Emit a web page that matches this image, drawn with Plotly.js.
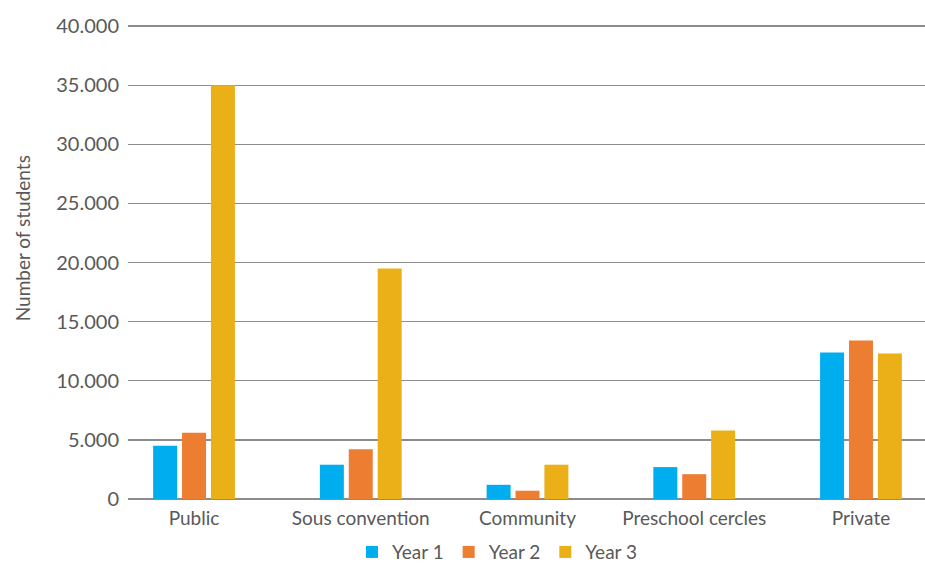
<!DOCTYPE html>
<html>
<head>
<meta charset="utf-8">
<script src="https://cdn.plot.ly/plotly-3.0.1.min.js"></script>
<style>html,body{margin:0;padding:0;background:#fff;}#chart{width:925px;height:567px;}</style>
</head>
<body>
<div id="chart"></div>
<script>
const categories = ["Public", "Sous convention", "Community", "Preschool cercles", "Private"];
const year1 = [4500, 2900, 1200, 2700, 12400];
const year2 = [5600, 4200, 700, 2100, 13400];
const year3 = [35000, 19500, 2900, 5800, 12300];
const seriesNames = ["Year 1", "Year 2", "Year 3"];
const colors = ["#00AEEF", "#ED7D31", "#EBB017"];
const yTicks = [0, 5000, 10000, 15000, 20000, 25000, 30000, 35000, 40000];

const series = [year1, year2, year3];
const traces = series.map((vals, i) => ({
  type: "bar",
  x: categories,
  y: vals,
  name: seriesNames[i],
  marker: {color: colors[i]},
  hoverinfo: "x+y+name"
}));

const font = {family: "Lato, 'Open Sans', sans-serif", color: "#595959"};

const layout = {
  width: 925, height: 567,
  margin: {l: 128, r: 0, t: 25, b: 68, autoexpand: false},
  paper_bgcolor: "#fff", plot_bgcolor: "#fff",
  separators: ",.",
  barmode: "group",
  bargap: 0.48,
  bargroupgap: 0.17,
  font: Object.assign({size: 20}, font),
  showlegend: true,
  legend: {
    orientation: "h", x: 0.463, xanchor: "center", y: -0.112, yanchor: "middle",
    font: Object.assign({size: 19}, font), itemwidth: 30, tracegroupgap: 0
  },
  xaxis: {
    type: "category",
    range: [-0.396, 4.384],
    showgrid: false, zeroline: false, showline: false,
    ticks: "", ticklabelstandoff: 6, tickfont: Object.assign({size: 19}, font)
  },
  yaxis: {
    range: [0, 40090],
    tickvals: yTicks,
    tickformat: ",d",
    showgrid: true, gridcolor: "#8c8c8c", gridwidth: 1.3,
    zeroline: true, zerolinecolor: "#8c8c8c", zerolinewidth: 1.3,
    showline: false, ticks: "", ticklabelstandoff: 8,
    tickfont: Object.assign({size: 20}, font)
  },
  annotations: [{
    text: "Number of students", textangle: -90,
    xref: "paper", yref: "paper", x: -0.133, y: 0.55,
    xanchor: "center", yanchor: "middle", showarrow: false,
    font: Object.assign({size: 19}, font)
  }]
};

Plotly.newPlot("chart", traces, layout, {displayModeBar: false, staticPlot: true});
</script>
</body>
</html>
